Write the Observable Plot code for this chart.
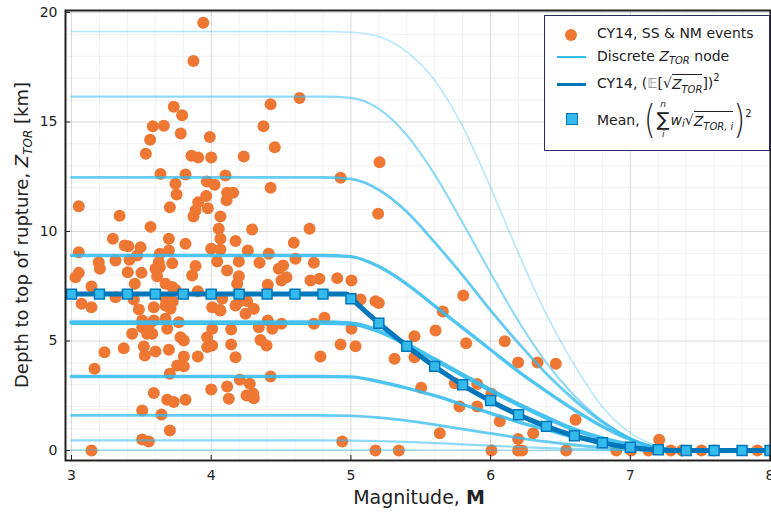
<!DOCTYPE html>
<html><head><meta charset="utf-8">
<script src="https://cdn.jsdelivr.net/npm/d3@7"></script>
<script src="https://cdn.jsdelivr.net/npm/@observablehq/plot@0.6"></script>
<style>
body{margin:0;background:#fff;}
#wrap{position:relative;width:771px;height:512px;font-family:"DejaVu Sans",sans-serif;color:#222;}
#legend{position:absolute;left:544px;top:15px;width:224px;height:134px;border:1.5px solid #2E2E5E;background:#fff;font-size:14px;}
.row{position:absolute;left:52px;display:flex;align-items:center;white-space:nowrap;}
.sym{position:absolute;}
.it{font-style:italic;}
.sub{font-size:10px;font-style:italic;position:relative;top:4px;}
.sup{font-size:10px;position:relative;top:-6px;}
.rad{border-top:1px solid #222;padding-top:1px;}
.stack{display:inline-flex;flex-direction:column;align-items:center;margin:0 1px;}
.stack .lim{font-size:9px;line-height:11px;height:11px;font-style:italic;}
.stack .big{font-size:19px;line-height:19px;height:19px;}
.paren{font-size:30px;transform:scaleY(1.3);display:inline-block;font-weight:200;line-height:30px;}
</style></head><body><div id="wrap"></div>
<script>
// ---------- data ----------
const eventM = [3.943,3.873,3.732,3.792,3.582,3.661,3.782,3.563,3.990,3.532,3.859,3.907,4.000,4.632,4.425,4.374,4.455,4.233,3.637,3.816,
3.744,3.969,3.752,3.964,3.907,3.704,3.976,3.888,3.873,3.052,3.344,3.566,3.296,3.697,3.381,3.406,3.494,3.816,4.000,3.052,
3.632,3.697,3.195,3.315,3.415,3.470,3.625,3.721,3.888,3.052,3.029,3.203,3.403,3.501,3.601,3.632,3.613,3.673,3.864,3.453,
3.143,3.721,3.744,3.904,4.102,4.926,4.024,4.425,4.114,4.157,4.110,4.066,4.054,4.293,4.704,4.066,4.174,4.591,4.066,4.262,
4.412,4.043,4.198,4.346,4.603,4.735,4.114,4.484,4.515,4.198,4.186,4.539,4.503,4.405,4.711,4.775,4.902,5.004,4.079,4.257,
4.174,4.305,3.072,3.143,3.482,3.589,3.673,3.709,4.007,3.315,3.446,3.673,3.725,4.061,4.210,4.246,4.066,3.506,3.589,3.673,
3.768,3.506,3.553,3.685,4.007,3.434,3.541,3.578,3.780,3.804,3.971,3.971,4.007,4.143,4.341,4.437,4.503,4.405,4.735,4.811,
5.004,3.236,3.374,3.518,3.525,3.601,3.697,3.804,3.904,4.143,4.353,4.396,4.174,4.782,4.926,5.033,3.757,3.804,3.165,3.704,
4.000,3.589,3.685,3.732,3.816,3.506,3.644,3.704,3.506,3.553,3.143,4.114,4.205,4.276,4.425,4.126,4.253,4.301,4.305,4.938,
5.205,5.195,5.069,5.176,5.200,5.312,5.455,5.455,5.606,5.658,5.804,5.825,5.503,5.744,5.904,5.777,5.904,5.636,6.006,6.066,
6.101,6.197,6.336,6.467,6.305,6.197,6.608,5.176,5.343,6.006,6.197,6.226,6.541,6.900,7.006,7.130,7.207,7.290,7.370,7.510,
7.600,7.910];
const eventZ = [19.53,17.78,15.69,15.31,14.81,14.83,14.47,14.19,14.31,13.55,13.46,13.38,13.38,16.09,15.81,14.81,13.85,13.42,12.63,12.60,
12.18,12.28,11.69,11.62,11.34,11.11,11.06,10.96,10.68,11.15,10.72,10.21,9.67,9.67,9.36,9.33,9.28,9.44,9.21,9.05,
8.98,9.13,8.60,8.68,8.71,8.90,8.60,8.55,8.42,8.11,7.91,8.30,8.14,8.11,8.30,8.37,7.96,7.61,7.99,7.61,
7.49,7.46,7.34,7.27,12.56,12.45,12.13,12.00,11.77,11.77,11.42,10.68,10.12,10.09,10.12,9.67,9.56,9.48,9.18,9.13,
8.98,8.63,8.63,8.57,8.75,8.57,8.22,8.30,8.45,7.96,7.61,7.91,7.76,7.57,7.76,7.84,7.87,7.76,6.93,6.82,
6.62,6.47,6.70,6.54,6.44,6.54,6.62,6.47,6.54,7.00,6.89,6.95,6.80,6.42,6.82,6.24,6.39,5.94,5.94,6.01,
5.86,5.63,5.71,5.56,5.56,5.33,5.33,5.33,5.17,5.02,5.17,4.72,4.79,5.52,5.63,5.56,5.79,5.94,5.79,6.06,
5.56,4.49,4.67,4.75,4.34,4.52,4.60,4.29,4.29,4.84,5.05,4.79,4.26,4.29,4.84,4.76,3.88,3.85,3.73,3.50,
2.79,2.63,2.32,2.21,2.32,1.83,1.64,0.91,0.50,0.41,0.00,2.92,3.23,3.05,3.38,2.36,2.51,2.59,2.39,0.41,
13.16,10.81,6.89,6.82,6.73,4.19,5.22,4.26,5.48,6.35,7.08,4.90,2.86,3.07,3.04,2.01,2.01,0.79,2.59,1.34,
4.99,4.02,4.02,3.96,0.79,0.53,1.40,0.00,0.00,0.00,0.00,0.00,0.00,0.00,0.00,0.00,0.49,0.00,0.00,0.00,
0.00,0.00];

// discrete Z_TOR nodes, sampled at nodeM
const nodeM = [3.0, 4.8, 5.0, 5.2, 5.4, 5.6, 5.8, 6.0, 6.2, 6.4, 6.6, 6.8, 7.0, 7.2, 7.4, 8.0];
const node1 = [19.13,19.13,19.10,18.90,18.20,16.90,14.80,12.00,9.00,6.20,3.90,2.00,0.80,0.20,0.00,0.00];
const node2 = [16.16,16.16,16.10,15.60,14.40,12.60,10.40,8.10,5.90,4.00,2.50,1.35,0.55,0.12,0.00,0.00];
const node3 = [12.47,12.47,12.40,11.90,10.90,9.50,8.00,6.40,4.90,3.50,2.30,1.30,0.55,0.12,0.00,0.00];
const node4 = [8.90,8.90,8.85,8.40,7.60,6.60,5.60,4.60,3.60,2.70,1.85,1.10,0.50,0.10,0.00,0.00];
const node5 = [5.84,5.84,5.80,5.45,4.85,4.15,3.45,2.75,2.10,1.50,0.95,0.55,0.25,0.06,0.00,0.00];
const node6 = [3.38,3.38,3.36,3.15,2.85,2.50,2.10,1.70,1.30,0.95,0.60,0.35,0.15,0.04,0.00,0.00];
const node7 = [1.60,1.60,1.58,1.50,1.36,1.18,0.98,0.78,0.58,0.40,0.25,0.13,0.05,0.01,0.00,0.00];
const node8 = [0.46,0.46,0.45,0.43,0.39,0.34,0.28,0.22,0.16,0.11,0.07,0.04,0.01,0.00,0.00,0.00];
const node9 = [0.03,0.03,0.03,0.03,0.03,0.02,0.02,0.01,0.01,0.01,0.00,0.00,0.00,0.00,0.00,0.00];
const nodes = [node1,node2,node3,node4,node5,node6,node7,node8,node9];

// CY14 mean curve
const cy14M = [3.0,4.97,5.0,5.1,5.2,5.3,5.4,5.5,5.6,5.7,5.8,5.9,6.0,6.1,6.2,6.3,6.4,6.5,6.6,6.7,6.8,6.9,7.0,7.1,7.2,7.3,7.32,8.0];
const cy14Z = [7.14,7.14,6.96,6.38,5.82,5.29,4.77,4.29,3.83,3.40,2.99,2.61,2.26,1.93,1.63,1.35,1.10,0.87,0.67,0.50,0.35,0.23,0.135,0.064,0.02,0.001,0,0];

// weighted mean of discrete nodes
const meanM = [3.0,3.2,3.4,3.6,3.8,4.0,4.2,4.4,4.6,4.8,5.0,5.2,5.4,5.6,5.8,6.0,6.2,6.4,6.6,6.8,7.0,7.2,7.4,7.6,7.8,8.0];
const meanZ = [7.14,7.14,7.14,7.14,7.14,7.14,7.14,7.14,7.14,7.14,6.93,5.81,4.76,3.84,3.00,2.28,1.63,1.10,0.67,0.35,0.15,0.03,0,0,0,0];

const xTicks = [3,4,5,6,7,8];
const yTicks = [0,5,10,15,20];

// ---------- styles ----------
const ORANGE = "#EE7733", CYAN = "#33BBEE", BLUE = "#0077BB";
const nodeWidth = [1.6,2.2,2.8,3.4,4.6,3.4,2.8,2.2,1.6];
const nodeOpacity = [0.35,0.55,0.75,0.85,0.9,0.85,0.75,0.55,0.35];

const events = eventM.map((m,i)=>({M:m, Z:eventZ[i]}));
const cy14 = cy14M.map((m,i)=>({M:m, Z:cy14Z[i]}));
const mean = meanM.map((m,i)=>({M:m, Z:meanZ[i]}));
const minorX = d3.range(30, 81, 2).map(v=>v/10);
const minorY = d3.range(0, 21, 1);

const nodeMarks = nodes.map((arr,k)=>Plot.line(nodeM.map((m,i)=>({M:m, Z:arr[i]})), {
  x:"M", y:"Z", stroke:CYAN, strokeWidth:nodeWidth[k], strokeOpacity:nodeOpacity[k], curve:"monotone-x"
}));

const chart = Plot.plot({
  width:771, height:512,
  marginLeft:65, marginRight:1, marginTop:10, marginBottom:52,
  style:{fontFamily:"DejaVu Sans, sans-serif", fontSize:"14px", color:"#222", background:"#fff"},
  x:{domain:[2.957,8.0036]},
  y:{domain:[-0.457,20.09]},
  marks:[
    Plot.gridX(minorX, {stroke:"#000", strokeOpacity:0.05}),
    Plot.gridY(minorY, {stroke:"#000", strokeOpacity:0.05}),
    Plot.gridX(xTicks, {stroke:"#000", strokeOpacity:0.1}),
    Plot.gridY(yTicks, {stroke:"#000", strokeOpacity:0.1}),
    Plot.dot(events, {x:"M", y:"Z", r:6, fill:ORANGE}),
    ...nodeMarks,
    Plot.line(cy14, {x:"M", y:"Z", stroke:BLUE, strokeWidth:5, curve:"monotone-x"}),
    Plot.dot(mean, {x:"M", y:"Z", symbol:"square", r:5.6, fill:CYAN, stroke:BLUE, strokeWidth:1.5}),
    Plot.tickX(xTicks, {insetTop:445, stroke:"#222", strokeWidth:1}),
    Plot.tickY(yTicks, {insetRight:700, stroke:"#222", strokeWidth:1}),
    Plot.axisX(xTicks, {tickSize:0, tickPadding:10, label:null, fill:"#222", tickFormat:d=>String(d)}),
    Plot.axisY(yTicks, {tickSize:0, tickPadding:8, label:null, fill:"#222", tickFormat:d=>String(d)}),
    Plot.frame({stroke:"#222", strokeWidth:2})
  ]
});
document.getElementById("wrap").appendChild(chart);

// axis titles
const svg = d3.select(chart);
const yl = svg.append("text").attr("transform","translate(28,235) rotate(-90)")
  .attr("text-anchor","middle").attr("font-size",18).attr("fill","#222");
yl.append("tspan").text("Depth to top of rupture, ");
yl.append("tspan").attr("font-style","italic").text("Z");
yl.append("tspan").attr("font-style","italic").attr("font-size",12).attr("dy",4).text("TOR");
yl.append("tspan").attr("dy",-4).text(" [km]");
const xl = svg.append("text").attr("x",419).attr("y",504)
  .attr("text-anchor","middle").attr("font-size",19).attr("fill","#222");
xl.append("tspan").text("Magnitude, ");
xl.append("tspan").attr("font-weight","bold").text("M");

// legend
const lg = document.createElement("div");
lg.id = "legend";
lg.innerHTML = `
<div class="sym" style="left:20px;top:13px;width:12px;height:12px;border-radius:50%;background:${ORANGE}"></div>
<div class="row" style="top:9px;">CY14, SS &amp; NM events</div>
<div class="sym" style="left:12px;top:40px;width:29px;height:2px;background:${CYAN}"></div>
<div class="row" style="top:32px;">Discrete&nbsp;<span class="it">Z</span><span class="sub">TOR</span>&nbsp;node</div>
<div class="sym" style="left:12px;top:67px;width:29px;height:2.5px;background:${BLUE}"></div>
<div class="row" style="top:58px;">CY14,&nbsp;(<span style="color:#888">𝔼</span>[√<span class="rad"><span class="it">Z</span><span class="sub">TOR</span></span>])<span class="sup">2</span></div>
<div class="sym" style="left:21px;top:97px;width:10px;height:10px;background:${CYAN};border:1.5px solid ${BLUE}"></div>
<div class="row" style="top:82px;height:43px;">Mean,&nbsp;<span class="paren">(</span><span class="stack"><span class="lim">n</span><span class="big">∑</span><span class="lim">i</span></span><span class="it">w</span><span class="sub">i</span>√<span class="rad"><span class="it">Z</span><span class="sub">TOR, i</span></span><span class="paren">)</span><span class="sup">2</span></div>
`;
document.getElementById("wrap").appendChild(lg);
</script>
</body></html>
